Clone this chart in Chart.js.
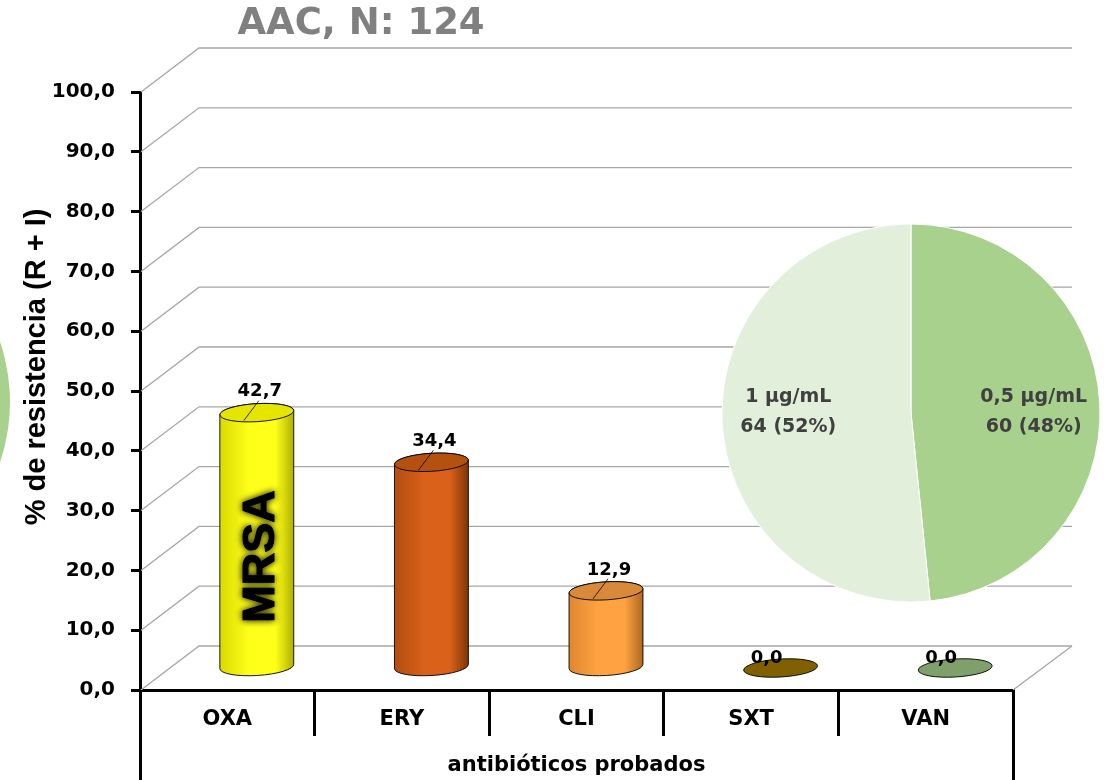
<!DOCTYPE html>
<html>
<head>
<meta charset="utf-8">
<script src="https://cdn.jsdelivr.net/npm/chart.js@4.4.1/dist/chart.umd.min.js"></script>
<style>
  html, body { margin: 0; padding: 0; background: #fff; overflow: hidden; }
  #wrap { position: relative; width: 1107px; height: 780px; overflow: hidden; }
  #wrap canvas { position: absolute; }
</style>
</head>
<body>
<div id="wrap">
  <canvas id="bars" width="1107" height="780" style="left:0;top:0"></canvas>
  <canvas id="edgePie" width="376" height="376" style="left:-366px;top:214px"></canvas>
  <canvas id="micPie" width="380" height="380" style="left:721px;top:223px"></canvas>
</div>
<script>
// ---- data ----
const chartTitle = 'AAC, N: 124';
const categories = ['OXA', 'ERY', 'CLI', 'SXT', 'VAN'];
const resistance = [42.7, 34.4, 12.9, 0.0, 0.0];
const yTickValues = [0, 10, 20, 30, 40, 50, 60, 70, 80, 90, 100];
const yAxisTitle = '% de resistencia (R + I)';
const xAxisTitle = 'antibióticos probados';
const barNote = 'MRSA';
const micLabels = ['0,5 µg/mL', '1 µg/mL'];
const micCounts = [60, 64];

// ---- styles ----
// cylinder palette per bar: [left edge, highlight, right edge, cap]
const cylinderColors = [
  ['#DADA00', '#FFFF1A', '#B0B000', '#E5E500'],
  ['#B24D10', '#D9611A', '#7E3507', '#B5510F'],
  ['#E0862F', '#FFA342', '#AE6720', '#D8893A'],
  ['#806000', '#806000', '#806000', '#806000'],
  ['#7FA06B', '#7FA06B', '#7FA06B', '#7FA06B']
];
const pieColors = ['#A9D18E', '#E2EFDA'];
const DEPTH = { dx: 59, dy: -44 };
const RY = 9;           // ellipse half-height of the cylinder caps
const TILT = -0.06;     // slight perspective tilt of the caps
const numFmt = v => Number(v).toFixed(1).replace('.', ',');

function alignPx(p, w) { return Math.round(p - w / 2) + w / 2; }

// back wall, left wall and floor of the 3-D box
const wallPlugin = {
  id: 'wall',
  beforeDatasetsDraw(chart) {
    const { ctx, chartArea: a, scales: { y } } = chart;
    ctx.save();
    ctx.strokeStyle = '#A6A6A6';
    ctx.lineWidth = 1.3;
    y.ticks.forEach(t => {
      const py = y.getPixelForValue(t.value);
      ctx.beginPath();
      ctx.moveTo(a.left + 1, py);
      ctx.lineTo(a.left + DEPTH.dx, py + DEPTH.dy);
      ctx.lineTo(a.right + DEPTH.dx, py + DEPTH.dy);
      ctx.stroke();
    });
    const p0 = y.getPixelForValue(0);
    ctx.beginPath();
    ctx.moveTo(a.right, p0);
    ctx.lineTo(a.right + DEPTH.dx, p0 + DEPTH.dy);
    ctx.stroke();
    ctx.restore();
  }
};

function drawCylinder(ctx, cx, top, base, rx, pal) {
  ctx.lineWidth = 1;
  ctx.strokeStyle = 'rgba(0,0,0,0.9)';
  if (base - top > 0.5) {
    const g = ctx.createLinearGradient(cx - rx, 0, cx + rx, 0);
    g.addColorStop(0, pal[0]);
    g.addColorStop(0.4, pal[1]);
    g.addColorStop(0.75, pal[1]);
    g.addColorStop(1, pal[2]);
    ctx.beginPath();
    ctx.ellipse(cx, base, rx, RY, TILT, Math.PI, 0, true);
    ctx.ellipse(cx, top, rx, RY, TILT, 0, Math.PI, true);
    ctx.closePath();
    ctx.fillStyle = g;
    ctx.fill();
    ctx.stroke();
  }
  ctx.beginPath();
  ctx.ellipse(cx, top, rx, RY, TILT, 0, Math.PI * 2);
  ctx.fillStyle = pal[3];
  ctx.fill();
  ctx.stroke();
}

// cylinders, value labels, the MRSA note, title and the table frame
const cylinderPlugin = {
  id: 'cylinders',
  afterDatasetsDraw(chart) {
    const { ctx } = chart;
    const meta = chart.getDatasetMeta(0);
    const ds = chart.data.datasets[0].data;
    ctx.save();
    meta.data.forEach((bar, i) => {
      const p = bar.getProps(['x', 'y', 'base', 'width'], true);
      const cx = p.x + DEPTH.dx / 2;
      const top = p.y + DEPTH.dy / 2;
      const base = p.base + DEPTH.dy / 2;
      const rx = p.width / 2;
      drawCylinder(ctx, cx, top, base, rx, cylinderColors[i]);

      // value label
      ctx.font = 'bold 18px "DejaVu Sans"';
      ctx.fillStyle = '#000';
      ctx.textAlign = 'center';
      ctx.textBaseline = 'middle';
      const v = ds[i];
      if (v > 0) {
        const lx = cx + 3, ly = top - 21;
        ctx.fillText(numFmt(v), lx, ly);
        ctx.beginPath();
        ctx.lineWidth = 0.8;
        ctx.strokeStyle = '#000';
        ctx.moveTo(lx - 1, ly + 9);
        ctx.lineTo(cx - 13, top + RY - 1);
        ctx.stroke();
      } else {
        ctx.fillText(numFmt(v), cx - 14, top - 10);
      }
    });

    // note written along the first cylinder, with a dark glow
    const first = meta.data[0].getProps(['x', 'y', 'base'], true);
    const nx = first.x + DEPTH.dx / 2 + 5;
    const ny = (first.y + first.base) / 2 + DEPTH.dy / 2 + 17;
    ctx.save();
    ctx.translate(nx, ny);
    ctx.rotate(-Math.PI / 2);
    ctx.font = 'bold 45px "Liberation Sans"';
    ctx.textAlign = 'center';
    ctx.textBaseline = 'middle';
    ctx.fillStyle = '#000';
    ctx.shadowColor = 'rgba(0,0,0,0.7)';
    ctx.shadowBlur = 7;
    ctx.fillText(barNote, 0, 0);
    ctx.fillText(barNote, 0, 0);
    ctx.shadowBlur = 0;
    ctx.lineWidth = 1;
    ctx.strokeStyle = '#000';
    ctx.strokeText(barNote, 0, 0);
    ctx.fillText(barNote, 0, 0);
    ctx.restore();
    ctx.restore();
  },
  afterDraw(chart) {
    const { ctx, chartArea: a } = chart;
    ctx.save();
    // table frame continues below the axis
    ctx.strokeStyle = '#000';
    ctx.lineWidth = 3;
    [a.left, a.right].forEach(x => {
      const px = alignPx(x, 3);
      ctx.beginPath();
      ctx.moveTo(px, a.bottom);
      ctx.lineTo(px, chart.height);
      ctx.stroke();
    });
    // title
    ctx.font = 'bold 37px "DejaVu Sans"';
    ctx.fillStyle = '#808080';
    ctx.textAlign = 'center';
    ctx.textBaseline = 'middle';
    ctx.fillText(chartTitle, 361, 24);
    // vertical axis title
    ctx.translate(45, 367);
    ctx.rotate(-Math.PI / 2);
    ctx.font = 'bold 29px "Liberation Sans"';
    ctx.fillStyle = '#000';
    ctx.textBaseline = 'alphabetic';
    ctx.fillText(yAxisTitle, 0, 0);
    ctx.restore();
  }
};

new Chart(document.getElementById('bars'), {
  type: 'bar',
  data: {
    labels: categories,
    datasets: [{
      data: resistance,
      backgroundColor: 'rgba(0,0,0,0)',
      borderWidth: 0,
      categoryPercentage: 1,
      barPercentage: 0.424
    }]
  },
  options: {
    responsive: false,
    animation: false,
    layout: { padding: { top: 92, right: 94, left: 0, bottom: 0 } },
    plugins: { legend: { display: false }, tooltip: { enabled: false } },
    scales: {
      x: {
        grid: { offset: true, drawOnChartArea: false, tickLength: 46, tickWidth: 3, tickColor: '#000', lineWidth: 3, color: '#000' },
        border: { display: true, width: 3, color: '#000' },
        ticks: { color: '#000', font: { family: 'DejaVu Sans', weight: 'bold', size: 21 }, padding: -29, maxRotation: 0, autoSkip: false },
        title: { display: true, text: xAxisTitle, color: '#000', font: { family: 'DejaVu Sans', weight: 'bold', size: 21 }, padding: { top: 0, bottom: 2 } },
        afterFit(s) { s.height = 90; }
      },
      y: {
        min: 0,
        max: 100,
        afterBuildTicks(s) { s.ticks = yTickValues.map(v => ({ value: v })); },
        grid: { drawOnChartArea: false, tickLength: 9, tickWidth: 3, tickColor: '#000', lineWidth: 3, color: '#000' },
        border: { display: true, width: 3, color: '#000' },
        ticks: { color: '#000', font: { family: 'DejaVu Sans', weight: 'bold', size: 20 }, padding: 16, callback: v => numFmt(v) },
        afterFit(s) { s.width = 140; }
      }
    }
  },
  plugins: [wallPlugin, cylinderPlugin]
});

// labels inside the slices: name on one line, count and share below
const pieLabelPlugin = {
  id: 'pieLabels',
  afterDatasetsDraw(chart) {
    const { ctx } = chart;
    const meta = chart.getDatasetMeta(0);
    const vals = chart.data.datasets[0].data;
    const total = vals.reduce((s, v) => s + v, 0);
    ctx.save();
    ctx.font = 'bold 19px "DejaVu Sans"';
    ctx.fillStyle = '#404040';
    ctx.textAlign = 'center';
    ctx.textBaseline = 'middle';
    meta.data.forEach((arc, i) => {
      const p = arc.getProps(['x', 'y', 'startAngle', 'endAngle', 'outerRadius'], true);
      const mid = (p.startAngle + p.endAngle) / 2;
      const d = p.outerRadius * 0.65;
      const x = p.x + Math.cos(mid) * d;
      const y = p.y - 1;
      ctx.fillText(chart.data.labels[i], x, y - 15);
      ctx.fillText(vals[i] + ' (' + Math.round(vals[i] / total * 100) + '%)', x, y + 15);
    });
    ctx.restore();
  }
};

new Chart(document.getElementById('micPie'), {
  type: 'pie',
  data: {
    labels: micLabels,
    datasets: [{ data: micCounts, backgroundColor: pieColors, borderColor: '#FFFFFF', borderWidth: 1, radius: 189 }]
  },
  options: {
    responsive: false,
    animation: false,
    plugins: { legend: { display: false }, tooltip: { enabled: false } }
  },
  plugins: [pieLabelPlugin]
});

// edge of the neighbouring pie panel, cut off by the page border
new Chart(document.getElementById('edgePie'), {
  type: 'pie',
  data: {
    labels: micLabels,
    datasets: [{ data: micCounts, backgroundColor: pieColors, borderWidth: 0, radius: 188 }]
  },
  options: {
    responsive: false,
    animation: false,
    plugins: { legend: { display: false }, tooltip: { enabled: false } }
  }
});
</script>
</body>
</html>
